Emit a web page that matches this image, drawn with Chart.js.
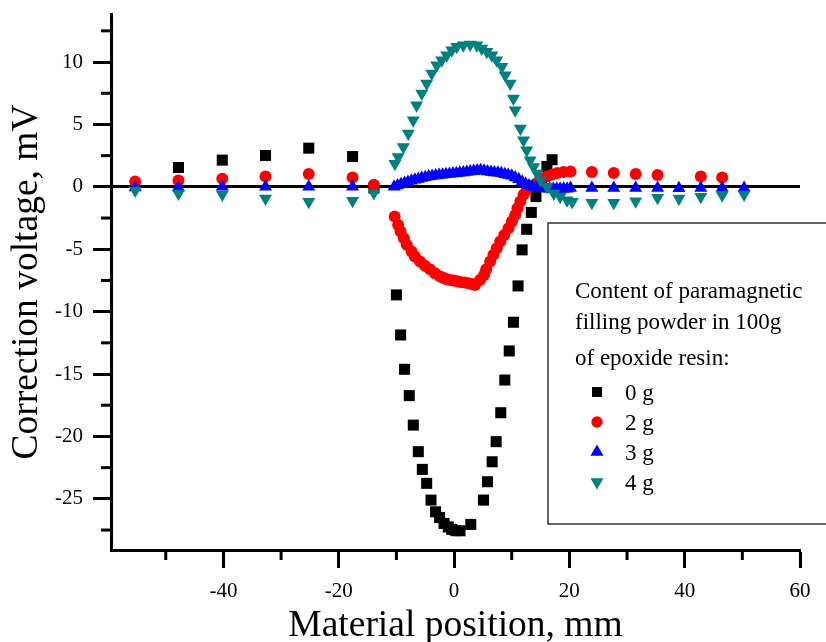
<!DOCTYPE html>
<html>
<head>
<meta charset="utf-8">
<script src="https://cdn.jsdelivr.net/npm/chart.js@4/dist/chart.umd.min.js"></script>
<style>
  html, body { margin: 0; padding: 0; background: #fff; }
  #wrap { width: 826px; height: 642px; }
</style>
</head>
<body>
<div id="wrap"><canvas id="chart" width="826" height="642"></canvas></div>
<script>
// sample position (mm) and correction voltage (mV) for each filler content
const x0g = [-47.8, -40.2, -32.7, -25.2, -17.6, -13.9, -10.0, -9.27, -8.58, -7.77, -7.07, -6.2, -5.5, -4.75,
  -4.0, -3.2, -2.5, -1.74, -1.0, -0.4, 0.3, 1.04, 2.9, 5.1, 5.8, 6.6, 7.3, 8.1, 8.8, 9.57, 10.3, 11.1,
  11.8, 12.6, 13.4, 14.2, 15.2, 16.1, 17.0];
const y0g = [1.55, 2.14, 2.51, 3.10, 2.43, -0.1, -8.66, -11.87, -14.62, -16.73, -19.09, -21.22, -22.64, -23.76,
  -25.1, -26.04, -26.5, -26.97, -27.25, -27.45, -27.55, -27.56, -27.05, -25.1, -23.63, -22.03, -20.42, -18.1, -15.48, -13.15, -10.85, -7.94,
  -5.05, -3.4, -2.05, -0.78, 0.6, 1.63, 2.17];

const x2g = [-55.3, -47.8, -40.2, -32.7, -25.2, -17.6, -13.9,
  -10.3, -9.7, -9.27, -8.7, -8.2, -7.36, -6.8, -5.9, -5.04, -4.17, -3.3, -2.4, -1.8, -1.27, -0.7, -0.1, 0.5, 1.04,
  1.8, 2.5, 3.1, 3.65, 4.5, 5.2, 5.57, 6.26, 6.83, 7.4, 8.0, 8.7, 9.44, 10.03, 10.6, 11.0, 11.5, 12.05, 12.6,
  13.5, 14.4, 15.2, 16.1, 17.0, 17.9, 19.0, 20.2,
  23.9, 27.7, 31.5, 35.3, 42.8, 46.5];
const y2g = [0.42, 0.51, 0.64, 0.83, 1.02, 0.75, 0.16,
  -2.38, -3.05, -3.58, -4.12, -4.65, -5.19, -5.59, -5.99, -6.33, -6.6, -6.92, -7.19, -7.3, -7.4, -7.46, -7.51, -7.57, -7.62,
  -7.67, -7.72, -7.79, -7.86, -7.46, -7.06, -6.6, -5.99, -5.45, -4.92, -4.38, -3.85, -3.31, -2.78, -2.25, -1.71, -1.18, -0.64, -0.24,
  0.1, 0.3, 0.6, 0.83, 0.98, 1.1, 1.18, 1.23,
  1.18, 1.1, 1.02, 0.94, 0.83, 0.75];

const x3g = [-55.3, -47.8, -40.2, -32.7, -25.2, -17.6,
  -10.4, -9.8, -9.2, -8.6, -8.0, -7.4, -6.8, -6.2, -5.6, -5.0, -4.4, -3.8, -3.2, -2.6, -2.0, -1.4, -0.8, -0.2,
  0.4, 1.0, 1.6, 2.2, 2.8, 3.4, 4.0, 4.6, 5.2, 5.8, 6.4, 7.0, 7.6, 8.2, 8.8, 9.4, 10.0, 10.6, 11.2, 11.8,
  12.4, 13.0, 13.6, 14.2, 14.8, 15.4, 16.0, 16.6, 17.2, 17.8, 18.4, 19.0, 19.6,
  20.2, 23.9, 27.7, 31.5, 35.3, 39.0, 42.8, 46.5, 50.3];
const y3g = [-0.05, -0.05, 0, 0, 0, 0,
  0.0, 0.1, 0.2, 0.3, 0.38, 0.48, 0.56, 0.63, 0.7, 0.76, 0.82, 0.86, 0.9, 0.94, 0.97, 1.0, 1.03, 1.06,
  1.09, 1.12, 1.15, 1.18, 1.22, 1.26, 1.3, 1.32, 1.28, 1.22, 1.18, 1.14, 1.12, 1.08, 1.0, 0.95, 0.88, 0.75, 0.6, 0.4,
  0.25, 0.1, 0.0, -0.05, -0.1, -0.12, -0.15, -0.15, -0.15, -0.15, -0.15, -0.15, -0.15,
  -0.1, -0.1, -0.1, -0.1, -0.1, -0.12, -0.1, -0.1, -0.1];

const x4g = [-55.3, -47.8, -40.2, -32.7, -25.2, -17.6, -13.9,
  -10.26, -9.7, -8.8, -7.94, -7.08, -6.5, -5.6, -4.75, -3.88, -3.0, -2.14, -1.27, -0.4, 0.47, 1.6, 2.8, 3.95,
  4.8, 5.69, 6.56, 7.4, 8.3, 8.87, 9.74, 10.3, 10.6, 11.5, 12.05, 12.6, 13.2, 13.8, 14.4, 15.0, 16.1, 17.3,
  18.4, 19.6, 20.5,
  23.9, 27.7, 31.5, 35.3, 39.0, 42.8, 46.5, 50.3];
const y4g = [-0.3, -0.54, -0.62, -0.94, -1.2, -1.12, -0.5,
  1.86, 2.4, 3.2, 4.27, 5.34, 6.54, 7.48, 8.28, 9.08, 9.75, 10.15, 10.55, 10.95, 11.23, 11.35, 11.41, 11.35,
  11.09, 10.83, 10.55, 10.15, 9.62, 8.95, 8.28, 7.08, 6.14, 4.67, 3.74, 2.93, 2.13, 1.6, 1.06, 0.53, 0.0, -0.54,
  -0.8, -1.07, -1.2,
  -1.28, -1.28, -1.16, -0.88, -0.94, -0.8, -0.67, -0.62];

const seriesLabels = ['0 g', '2 g', '3 g', '4 g'];
const legendTitle = ['Content of paramagnetic', 'filling powder in 100g', 'of epoxide resin:'];

const toPoints = (xs, ys) => xs.map((x, i) => ({ x, y: ys[i] }));
const serif = '"Liberation Serif", "Times New Roman", serif';

// short unlabelled ticks halfway between the major ones
const minorTicks = {
  id: 'minorTicks',
  afterDraw(chart) {
    const ctx = chart.ctx;
    ctx.save();
    ctx.strokeStyle = '#000';
    ctx.lineWidth = 3;
    const xs = chart.scales.x, ys = chart.scales.y;
    for (let v = -50; v <= xs.max; v += 20) {
      const px = xs.getPixelForValue(v);
      ctx.beginPath();
      ctx.moveTo(px, xs.top);
      ctx.lineTo(px, xs.top + 10);
      ctx.stroke();
    }
    for (let v = -27.5; v <= ys.max; v += 5) {
      const py = ys.getPixelForValue(v);
      ctx.beginPath();
      ctx.moveTo(ys.right, py);
      ctx.lineTo(ys.right - 10, py);
      ctx.stroke();
    }
    ctx.restore();
  }
};

// boxed legend with a three line heading
const legendBox = {
  id: 'legendBox',
  afterDraw(chart) {
    const ctx = chart.ctx;
    const sizes = [7, 5.7, 7.5, 7.5];
    ctx.save();
    ctx.fillStyle = '#fff';
    ctx.fillRect(548, 223, 300, 301);
    ctx.strokeStyle = '#333';
    ctx.lineWidth = 1.5;
    ctx.strokeRect(548, 223, 300, 301);
    ctx.font = '23px ' + serif;
    ctx.textBaseline = 'alphabetic';
    ctx.fillStyle = '#000';
    const titleY = [298, 329, 365];
    legendTitle.forEach((line, i) => ctx.fillText(line, 575, titleY[i]));
    chart.data.datasets.forEach((ds, i) => {
      const base = 400 + i * 30;
      ctx.fillStyle = ds.backgroundColor;
      Chart.helpers.drawPoint(ctx, {
        pointStyle: ds.pointStyle, radius: sizes[i], rotation: ds.rotation || 0, borderWidth: 0
      }, 597, base - 8);
      ctx.fillStyle = '#000';
      ctx.fillText(ds.label, 625, base);
    });
    ctx.restore();
  }
};

new Chart(document.getElementById('chart'), {
  type: 'scatter',
  data: {
    datasets: [
      { label: seriesLabels[0], data: toPoints(x0g, y0g), pointStyle: 'rect', pointRadius: 7.8,
        backgroundColor: '#000000', borderWidth: 0, order: 4 },
      { label: seriesLabels[1], data: toPoints(x2g, y2g), pointStyle: 'circle', pointRadius: 6,
        backgroundColor: '#ff0000', borderWidth: 0, order: 3 },
      { label: seriesLabels[2], data: toPoints(x3g, y3g), pointStyle: 'triangle', pointRadius: 7.5,
        backgroundColor: '#0000ff', borderWidth: 0, order: 2 },
      { label: seriesLabels[3], data: toPoints(x4g, y4g), pointStyle: 'triangle', rotation: 180, pointRadius: 7.5,
        pointRotation: 180, backgroundColor: '#008080', borderWidth: 0, order: 1 }
    ]
  },
  options: {
    responsive: false,
    animation: false,
    layout: { padding: { left: 0, top: 14, right: 26, bottom: 0 } },
    plugins: { legend: { display: false }, tooltip: { enabled: false } },
    scales: {
      x: {
        type: 'linear',
        min: -59.5,
        max: 60,
        afterFit: s => { s.height = 92; s.paddingLeft = 0; s.paddingRight = 0; },
        border: { display: true, color: '#000', width: 3 },
        grid: { drawOnChartArea: false, drawTicks: true, tickLength: 18, tickWidth: 3, tickColor: '#000' },
        ticks: {
          stepSize: 20, includeBounds: false, autoSkip: false, maxRotation: 0, padding: 11,
          color: '#000', font: { family: serif, size: 21 }
        },
        title: {
          display: true, text: 'Material position, mm', color: '#000',
          font: { family: serif, size: 37.5, lineHeight: 0.87 }, padding: { top: 0, bottom: 0 }
        }
      },
      y: {
        type: 'linear',
        min: -29.1,
        max: 13.85,
        afterFit: s => { s.width = 111; s.paddingTop = 0; s.paddingBottom = 0; },
        border: { display: true, color: '#000', width: 3 },
        grid: {
          drawOnChartArea: true, drawTicks: true, tickLength: 18, tickWidth: 3, tickColor: '#000',
          color: c => (c.tick && c.tick.value === 0 ? '#000' : 'rgba(0,0,0,0)'),
          lineWidth: c => (c.tick && c.tick.value === 0 ? 3 : 1)
        },
        ticks: {
          stepSize: 5, includeBounds: false, padding: 10,
          color: '#000', font: { family: serif, size: 21 }
        },
        title: {
          display: true, text: 'Correction voltage, mV', color: '#000',
          font: { family: serif, size: 37.5 }, padding: { top: 5, bottom: 0 }
        }
      }
    }
  },
  plugins: [minorTicks, legendBox]
});
</script>
</body>
</html>
